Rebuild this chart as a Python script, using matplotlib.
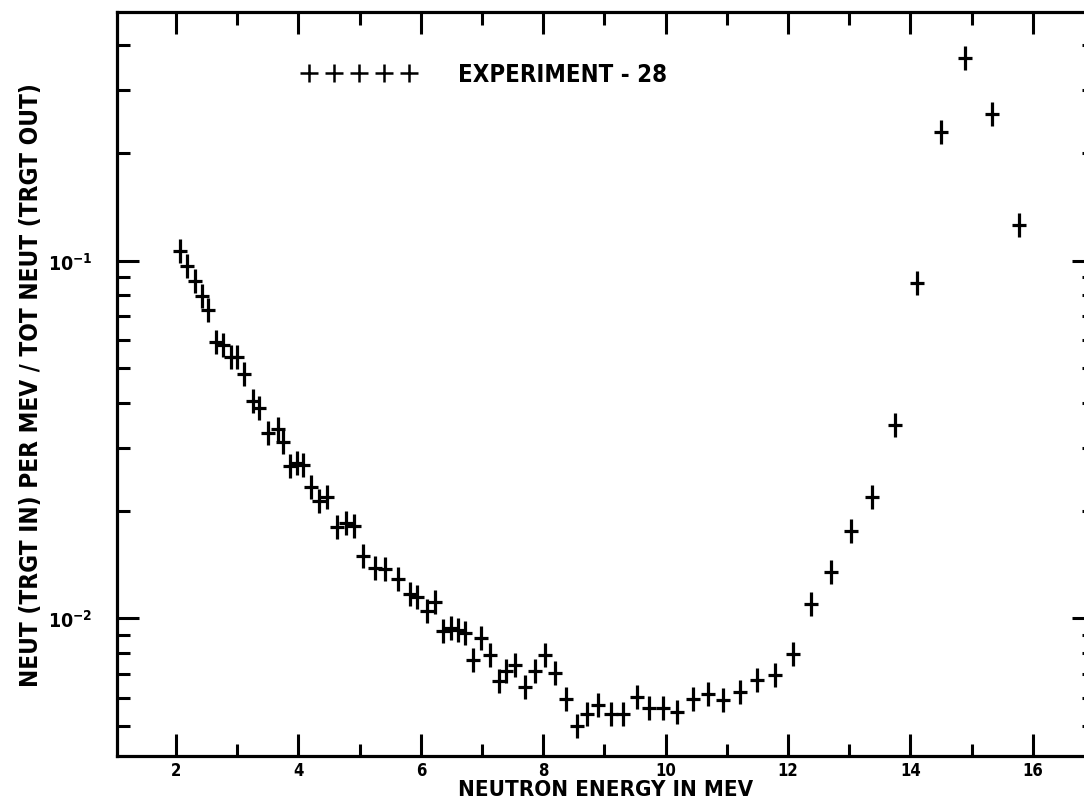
import numpy as np
import matplotlib
matplotlib.use('Agg')
import matplotlib.pyplot as plt
from matplotlib.path import Path
from matplotlib.lines import Line2D
from matplotlib.ticker import MultipleLocator, LogLocator, NullFormatter, FixedLocator, FixedFormatter

plt.rcParams['font.family'] = ['DejaVu Sans']
plt.rcParams['font.weight'] = 'bold'
plt.rcParams['font.stretch'] = 'condensed'
plt.rcParams['axes.labelweight'] = 'bold'

# neutron energy (MeV) and neut(trgt in)/tot neut(trgt out) per MeV
energy = [2.06, 2.18, 2.31, 2.42, 2.53, 2.65, 2.77, 2.89, 2.99, 3.11,
          3.25, 3.36, 3.51, 3.66, 3.75, 3.86, 3.98, 4.08, 4.20, 4.34,
          4.46, 4.63, 4.77, 4.90, 5.06, 5.25, 5.41, 5.62, 5.82, 5.93,
          6.10, 6.23, 6.37, 6.49, 6.61, 6.72, 6.85, 6.98, 7.13, 7.27,
          7.39, 7.54, 7.70, 7.87, 8.03, 8.19, 8.37, 8.55, 8.72, 8.90,
          9.10, 9.31, 9.54, 9.73, 9.95, 10.18, 10.44, 10.70, 10.94, 11.22,
          11.50, 11.79, 12.08, 12.37, 12.70, 13.03, 13.38, 13.75, 14.11, 14.50,
          14.90, 15.34, 15.78]
ratio = [0.1067, 0.0968, 0.0879, 0.0798, 0.0728, 0.0591, 0.0579, 0.0537, 0.0537, 0.0482,
         0.0406, 0.0388, 0.0329, 0.0338, 0.0311, 0.0266, 0.0272, 0.0268, 0.0233, 0.0213,
         0.0218, 0.0180, 0.0185, 0.0181, 0.0149, 0.0138, 0.0137, 0.0129, 0.0117, 0.0115,
         0.0105, 0.0111, 0.00924, 0.0094, 0.0093, 0.0091, 0.00762, 0.0088, 0.00787, 0.00666,
         0.00714, 0.00741, 0.00644, 0.00714, 0.00787, 0.00703, 0.00593, 0.00501, 0.0054, 0.00573,
         0.0054, 0.0054, 0.00602, 0.00561, 0.00561, 0.00546, 0.00595, 0.00615, 0.00589, 0.00621,
         0.00674, 0.00695, 0.00795, 0.01097, 0.01345, 0.01751, 0.0218, 0.0347, 0.0866, 0.2294,
         0.368, 0.257, 0.1259]

x_major = [2, 4, 6, 8, 10, 12, 14, 16]
x_labels = ['2', '4', '6', '8', '10', '12', '14', '16']
y_major = [0.01, 0.1]
y_labels = [r'$\mathbf{10^{-2}}$', r'$\mathbf{10^{-1}}$']

# tall plus: vertical bar longer than horizontal one
cross = Path([(-0.54, 0), (0.54, 0), (0, -1), (0, 1)],
             [Path.MOVETO, Path.LINETO, Path.MOVETO, Path.LINETO])

W, H = 1084, 803
left, right, top, bottom = 117.3, 1094, 12.5, 757
fig = plt.figure(figsize=(W / 100, H / 100), dpi=100)
ax = fig.add_axes([left / W, 1 - bottom / H, (right - left) / W, (bottom - top) / H])

ax.plot(energy, ratio, ls='none', marker=cross, ms=17.5, mew=2.3,
        mec='black', mfc='none')

ax.set_yscale('log')
ax.set_xlim(1.04, 17.0)
ax.set_ylim(0.00412, 0.497)

ax.xaxis.set_major_locator(FixedLocator(x_major))
ax.xaxis.set_major_formatter(FixedFormatter(x_labels))
ax.xaxis.set_minor_locator(MultipleLocator(1))
ax.yaxis.set_major_locator(FixedLocator(y_major))
ax.yaxis.set_major_formatter(FixedFormatter(y_labels))
ax.yaxis.set_minor_locator(LogLocator(base=10, subs=np.arange(2, 10)))
ax.yaxis.set_minor_formatter(NullFormatter())

ax.tick_params(which='both', direction='in', top=True, right=True, width=2.2, color='black')
ax.tick_params(which='major', length=15.5)
ax.tick_params(which='minor', length=9)
ax.tick_params(axis='x', which='major', labelsize=12, pad=3.5)
ax.tick_params(axis='y', which='major', labelsize=14, pad=18)
for s in ax.spines.values():
    s.set_linewidth(2.3)

ax.set_xlabel('NEUTRON ENERGY IN MEV', fontsize=16)
ax.xaxis.set_label_coords(0.5, -0.0305)
ax.xaxis.label.set_va('top')
ax.set_ylabel('NEUT (TRGT IN) PER MEV / TOT NEUT (TRGT OUT)', fontsize=17.5)
ax.yaxis.set_label_coords(-0.076, 0.5)

handle = Line2D([], [], ls='none', marker='+', ms=13, mew=1.8, color='black')
ax.legend([handle], ['EXPERIMENT - 28'], numpoints=5, handlelength=4.78,
          handletextpad=1.75, frameon=False, fontsize=17.2, borderpad=0,
          borderaxespad=0, loc='center left', bbox_to_anchor=(0.1886, 0.9154))

fig.savefig('out.png', dpi=100)
